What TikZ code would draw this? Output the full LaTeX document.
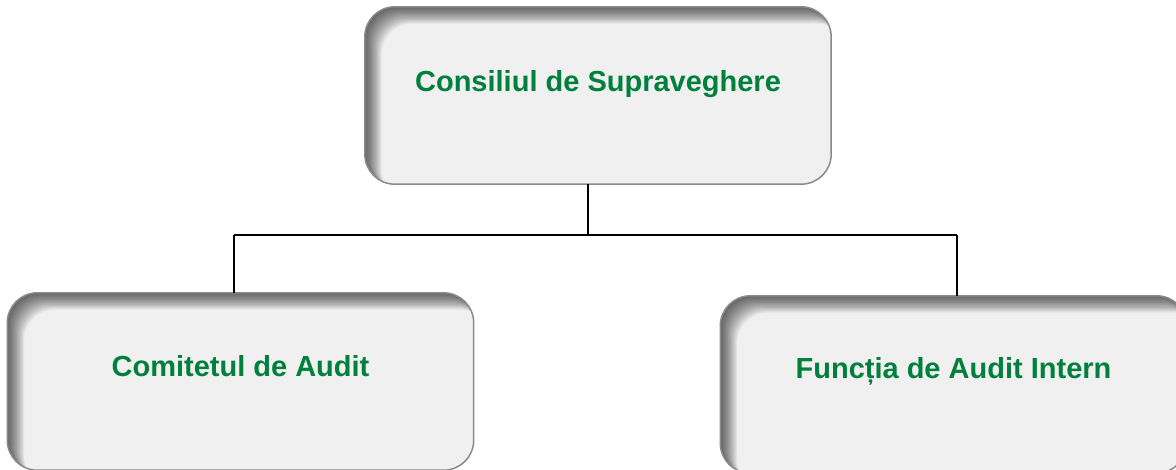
\documentclass[tikz,border=0pt]{standalone}
\usepackage{fontspec}
\setmainfont{Liberation Sans}
\usepackage{xcolor}
\definecolor{boxgreen}{HTML}{00803C}
\definecolor{boxfill}{HTML}{F0F0F0}
\definecolor{boxedge}{HTML}{8A8A8A}
\usetikzlibrary{positioning}

\begin{document}
\begin{tikzpicture}[x=1pt, y=-1pt,
    orgbox/.style={rectangle, rounded corners=30pt, fill=boxfill, minimum width=466pt, minimum height=177pt},
    orgtext/.style={text=boxgreen, anchor=base, font=\fontsize{29}{34}\selectfont\bfseries},
    link/.style={draw=black, line width=1.5pt}]
    \useasboundingbox (0,0) rectangle (1176,470);
    \clip (0,0) rectangle (1176,470);

    \node (cons) at (598,95.5) [orgbox] {};
    \node (com) at (240.5,381.5) [orgbox] {};
    \node (func) at (953.5,384.5) [orgbox] {};

    % inner shadow on top and left edges
    \foreach \b in {cons,com,func} {
        \begin{scope}
            \clip[rounded corners=30pt] (\b.south west) rectangle (\b.north east);
            \foreach \i in {1,...,14}
                \fill[black, opacity=0.055, even odd rule]
                    ([xshift=-5pt,yshift=5pt]\b.north west) rectangle ([xshift=5pt,yshift=-5pt]\b.south east)
                    [rounded corners=30pt]
                    ([xshift=\i*1.2pt,yshift=-\i*1.2pt]\b.south west) rectangle ([xshift=\i*1.2pt,yshift=-\i*1.2pt]\b.north east);
        \end{scope}
        \draw[boxedge, line width=1.5pt, rounded corners=30pt] (\b.south west) rectangle (\b.north east);
    }

    \node (consT) at ([yshift=-85pt]cons.north) [orgtext] {Consiliul de Supraveghere};
    \node (comT) at ([yshift=-84pt]com.north) [orgtext] {Comitetul de Audit};
    \node (funcT) at ([yshift=-83pt]func.north) [orgtext] {Funcția de Audit Intern};

    \coordinate (bus) at (588,235);
    \coordinate (busL) at (234,235);
    \coordinate (busR) at (957,235);
    \draw[link] (cons.south -| bus) -- (bus);
    \draw[link] (busL) -- (busR);
    \draw[link] (busL) -- (busL |- com.north);
    \draw[link] (busR) -- (busR |- func.north);
\end{tikzpicture}
\end{document}
